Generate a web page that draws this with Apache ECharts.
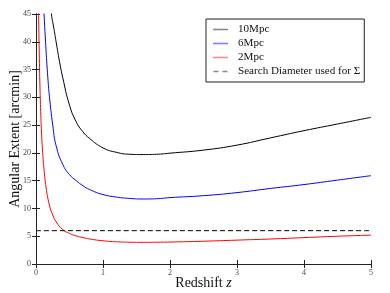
<!DOCTYPE html>
<html>
<head>
<meta charset="utf-8">
<script src="https://cdn.jsdelivr.net/npm/echarts@6/dist/echarts.min.js"></script>
<style>html,body{margin:0;padding:0;background:#fff}#c{width:390px;height:293px}</style>
</head>
<body>
<div id="c"></div>
<script>
var seriesNames = ['10Mpc', '6Mpc', '2Mpc', 'Search Diameter used for \u03A3'];
var xTicks = [0, 1, 2, 3, 4, 5];
var yTicks = [0, 5, 10, 15, 20, 25, 30, 35, 40, 45];

var z10 = [0.21, 0.23, 0.27, 0.3, 0.35, 0.4, 0.5, 0.6, 0.7, 0.8, 1.0, 1.2, 1.4, 1.6, 1.8, 2.0, 2.5, 3.0, 3.5, 4.0, 4.5, 5.0];
var v10 = [48, 45, 42.2, 40, 36.5, 33.5, 28.6, 25.6, 23.8, 22.6, 20.9, 20.1, 19.75, 19.7, 19.75, 19.95, 20.5, 21.4, 22.7, 24.0, 25.2, 26.4];

var z6 = [0.11, 0.12, 0.14, 0.16, 0.18, 0.2, 0.25, 0.3, 0.4, 0.5, 0.6, 0.7, 0.8, 1.0, 1.2, 1.4, 1.6, 1.8, 2.0, 2.5, 3.0, 3.5, 4.0, 4.5, 5.0];
var v6 = [48, 45, 40.5, 36.5, 33, 30.2, 25, 21.3, 17.9, 16.1, 15.0, 14.1, 13.4, 12.5, 12.05, 11.8, 11.7, 11.75, 11.95, 12.3, 12.85, 13.6, 14.3, 15.1, 15.9];

var z2 = [0.035, 0.04, 0.05, 0.06, 0.07, 0.085, 0.1, 0.12, 0.15, 0.2, 0.25, 0.3, 0.4, 0.5, 0.6, 0.7, 0.8, 1.0, 1.2, 1.4, 1.6, 1.8, 2.0, 2.5, 3.0, 3.5, 4.0, 4.5, 5.0];
var v2 = [48, 44, 37, 31.5, 27.5, 23, 20, 17, 13.8, 10.6, 8.8, 7.6, 6.2, 5.5, 5.05, 4.75, 4.5, 4.18, 4.0, 3.92, 3.9, 3.92, 3.95, 4.1, 4.3, 4.5, 4.75, 5.0, 5.2];

var zSearch = [0, 5];
var vSearch = [6, 6];

function pairs(xs, ys) { return xs.map(function (x, i) { return [x, ys[i]]; }); }

var FONT = 'Liberation Serif';
var axisLine = { lineStyle: { color: '#222', width: 1 } };
var chart = echarts.init(document.getElementById('c'), null, { renderer: 'canvas' });
function lineSeries(name, data, color, type) {
  return {
    name: name, type: 'line', data: data, symbol: 'none', showSymbol: false,
    smooth: 0.5, clip: true, animation: false,
    lineStyle: { color: color, width: 1, type: type || 'solid' },
    itemStyle: { color: color }
  };
}
var solidIcon = 'path://M0,0h15v1.6H0z';
var dashIcon = 'path://M0,0h5v1.6H0z M9,0h5v1.6H9z';
chart.setOption({
  animation: false,
  backgroundColor: '#fff',
  grid: { left: 36, right: 19, top: 14, bottom: 29, containLabel: false, outerBoundsMode: 'none' },
  legend: {
    left: 206, top: 19, orient: 'vertical',
    data: [
      { name: seriesNames[0], icon: solidIcon, itemStyle: { color: '#8a8a8a' } },
      { name: seriesNames[1], icon: solidIcon, itemStyle: { color: '#8080ff' } },
      { name: seriesNames[2], icon: solidIcon, itemStyle: { color: '#ff8a8a' } },
      { name: seriesNames[3], icon: dashIcon, itemStyle: { color: '#8a8a8a' } }
    ],
    borderColor: '#222', borderWidth: 1, borderRadius: 0,
    backgroundColor: '#fff',
    padding: [4, 4, 4, 7],
    itemWidth: 15, itemHeight: 1.6, itemGap: 1,
    textStyle: { fontFamily: FONT, fontSize: 11.1, color: '#111', padding: [0, 0, 0, 5], lineHeight: 13 }
  },
  xAxis: [{
    type: 'value', min: 0, max: 5, interval: 1, position: 'bottom',
    axisLine: axisLine, splitLine: { show: false },
    axisTick: { inside: true, length: 4, lineStyle: { color: '#222' } },
    axisLabel: { fontFamily: FONT, fontSize: 8, color: '#444', margin: 5,
      formatter: function (v) { return xTicks.indexOf(v) >= 0 ? String(v) : ''; } },
    name: 'Redshift {i|z}', nameLocation: 'middle', nameGap: 12, nameMoveOverlap: false,
    nameTextStyle: { fontFamily: FONT, fontSize: 14, color: '#111', rich: { i: { fontFamily: FONT, fontStyle: 'italic', fontSize: 14 } } }
  }, {
    type: 'value', min: 0, max: 5, interval: 1, position: 'top',
    axisLine: axisLine, splitLine: { show: false },
    axisTick: { inside: true, length: 4, lineStyle: { color: '#222' } },
    axisLabel: { show: false }
  }],
  yAxis: [{
    type: 'value', min: 0, max: 45, interval: 5, position: 'left',
    axisLine: Object.assign({ show: true }, axisLine), splitLine: { show: false },
    axisTick: { show: true, inside: true, length: 4, lineStyle: { color: '#222' } },
    axisLabel: { fontFamily: FONT, fontSize: 8, color: '#444', margin: 5,
      formatter: function (v) { return yTicks.indexOf(v) >= 0 ? String(v) : ''; } },
    name: 'Angular Extent [arcmin]', nameLocation: 'middle', nameGap: 14, nameRotate: 90, nameMoveOverlap: false,
    nameTextStyle: { fontFamily: FONT, fontSize: 14, color: '#111' }
  }, {
    type: 'value', min: 0, max: 45, interval: 5, position: 'right',
    axisLine: Object.assign({ show: true }, axisLine), splitLine: { show: false },
    axisTick: { show: true, inside: true, length: 4, lineStyle: { color: '#222' } },
    axisLabel: { show: false }
  }],
  series: [
    lineSeries(seriesNames[0], pairs(z10, v10), '#000000'),
    lineSeries(seriesNames[1], pairs(z6, v6), '#0000ff'),
    lineSeries(seriesNames[2], pairs(z2, v2), '#ff0000'),
    lineSeries(seriesNames[3], pairs(zSearch, vSearch), '#000000', [5, 3])
  ]
});
</script>
</body>
</html>
